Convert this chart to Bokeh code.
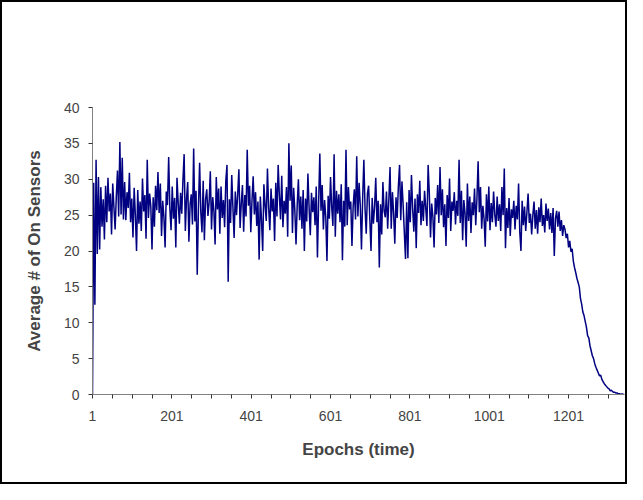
from bokeh.plotting import figure
from bokeh.models import Range1d, FixedTicker, ColumnDataSource
from bokeh.embed import file_html
from bokeh.resources import INLINE

# Epoch index (every 3rd epoch)
epochs = list(range(1, 1343, 3))
avg_on_sensors = [
    0, 29.5, 12.5, 32.7, 19.6, 30.3, 20.2, 28.9, 23.4, 27.2, 21.6, 29.1, 24.0, 30.2, 25.5, 28.0, 22.3, 29.4, 26.1, 23.0,
    27.6, 31.2, 24.8, 35.2, 25.1, 33.0, 24.4, 29.6, 24.3, 28.2, 26.0, 30.9, 24.0, 27.3, 21.9, 28.8, 25.0, 20.0, 28.5, 23.8,
    26.9, 22.8, 30.1, 25.5, 27.8, 21.7, 32.7, 24.6, 28.0, 26.2, 20.2, 27.5, 23.4, 29.1, 25.7, 31.0, 25.3, 29.4, 22.1, 27.0,
    24.7, 20.5, 28.3, 26.4, 33.1, 26.0, 22.9, 29.0, 24.5, 27.4, 20.5, 30.2, 26.7, 23.8, 28.1, 25.2, 29.9, 33.5, 22.8, 27.3,
    29.6, 21.3, 26.5, 27.9, 23.7, 34.3, 24.1, 28.4, 16.7, 25.9, 32.3, 25.4, 22.6, 29.8, 21.5, 27.2, 28.6, 24.9, 26.8, 31.1,
    23.0, 27.5, 25.6, 20.9, 30.3, 25.8, 28.7, 22.4, 29.0, 24.6, 27.1, 23.3, 29.7, 32.0, 15.7, 27.2, 23.9, 30.6, 26.0, 21.8,
    28.3, 25.0, 27.9, 31.4, 23.2, 26.6, 29.2, 22.7, 27.8, 24.8, 34.1, 26.3, 29.1, 22.6, 27.0, 30.4, 25.1, 28.2, 23.5, 26.9,
    18.8, 27.6, 24.3, 20.0, 29.3, 26.4, 24.2, 31.5, 26.1, 22.9, 28.7, 25.5, 27.3, 21.4, 29.5, 24.8, 32.0, 27.8, 24.4, 30.5,
    23.3, 27.0, 25.2, 28.9, 22.0, 35.0, 27.0, 31.9, 22.5, 28.8, 25.7, 20.9, 26.4, 30.0, 24.3, 27.6, 23.1, 28.5, 20.0, 27.3,
    24.1, 30.8, 26.0, 22.2, 28.1, 25.4, 27.5, 23.6, 29.0, 19.1, 26.7, 33.6, 25.6, 29.2, 23.0, 27.1, 24.7, 18.6, 27.7, 24.5,
    30.3, 26.1, 23.5, 33.5, 22.0, 28.4, 25.2, 27.9, 24.0, 29.3, 18.7, 27.0, 23.4, 34.1, 23.6, 28.9, 25.8, 26.9, 20.7, 26.2,
    28.6, 24.4, 33.2, 24.8, 29.5, 26.3, 20.2, 27.4, 32.7, 25.9, 22.4, 28.0, 29.1, 24.5, 20.0, 27.4, 23.8, 26.1, 30.2, 24.0,
    27.0, 17.7, 26.5, 22.3, 29.6, 25.6, 24.7, 28.3, 23.1, 27.1, 31.7, 23.1, 28.2, 25.3, 21.0, 27.5, 24.6, 29.0, 32.0, 24.3,
    29.7, 26.4, 22.6, 18.9, 26.8, 19.0, 28.5, 24.0, 30.6, 25.9, 22.7, 27.3, 20.4, 27.9, 25.3, 29.8, 23.6, 27.0, 24.2, 28.4,
    26.0, 23.5, 32.0, 28.0, 21.9, 26.6, 24.8, 20.5, 27.4, 25.1, 29.2, 23.9, 31.7, 25.0, 28.6, 23.3, 26.5, 20.7, 27.8, 24.6,
    30.1, 22.8, 26.9, 25.6, 28.2, 23.7, 27.0, 24.9, 32.7, 23.9, 28.4, 21.5, 27.1, 25.3, 20.6, 29.4, 24.2, 27.6, 22.5, 26.8,
    25.0, 28.7, 23.6, 27.2, 32.5, 25.4, 28.9, 23.1, 26.3, 24.5, 20.6, 27.9, 24.1, 29.0, 22.9, 26.7, 24.0, 28.3, 25.1, 23.4,
    27.6, 24.2, 26.5, 22.8, 28.9, 25.0, 31.5, 20.4, 26.0, 23.2, 27.4, 22.1, 25.8, 24.6, 27.0, 23.0, 26.3, 24.4, 29.4, 22.7,
    20.0, 27.0, 23.6, 26.2, 22.8, 25.4, 28.0, 23.9, 25.2, 22.3, 25.0, 26.9, 23.1, 25.7, 22.4, 26.1, 24.0, 27.3, 23.5, 25.0,
    22.6, 26.6, 24.2, 25.9, 23.0, 25.3, 22.5, 26.0, 19.3, 24.5, 25.6, 23.4, 25.5, 22.8, 24.3, 22.1, 23.6, 23.0, 21.8, 22.4,
    20.5, 21.4, 19.9, 20.3, 18.6, 17.7, 17.0, 16.2, 15.6, 15.0, 13.4, 12.6, 11.5, 11.0, 10.2, 9.4, 8.2, 7.9, 6.8, 6.1,
    5.4, 5.0, 4.3, 3.8, 3.4, 3.0, 2.6, 2.7, 2.1, 1.8, 1.5, 1.3, 1.1, 0.9, 0.8, 0.5, 0.6, 0.4, 0.3, 0.3,
    0.2, 0.2, 0.1, 0.1, 0.0, 0.1, 0.0, 0.0,
]

x_ticks = list(range(1, 1302, 50))
x_tick_labels = ["1", "201", "401", "601", "801", "1001", "1201"]
y_ticks = [0, 5, 10, 15, 20, 25, 30, 35, 40]

x_title = "Epochs (time)"
y_title = "Average # of On Sensors"

FONT = "Liberation Sans"

src = ColumnDataSource(dict(x=epochs, y=avg_on_sensors))

p = figure(
    width=627, height=484,
    x_range=Range1d(1, 1342), y_range=Range1d(0, 40),
    output_backend="svg", toolbar_location=None,
    min_border_left=90, min_border_right=5, min_border_top=105, min_border_bottom=92,
)
p.styles = {"border": "2px solid black"}
p.outline_line_color = None
p.xgrid.visible = False
p.ygrid.visible = False
p.background_fill_color = "white"
p.border_fill_color = "white"

p.line("x", "y", source=src, line_color="#000080", line_width=1.5)

# X axis
xa = p.xaxis[0]
xa.ticker = FixedTicker(ticks=x_ticks)
overrides = {}
for t in x_ticks:
    overrides[t] = str(t) if str(t) in x_tick_labels else ""
xa.major_label_overrides = overrides
xa.axis_label = x_title
xa.axis_label_text_font = FONT
xa.axis_label_text_font_style = "bold"
xa.axis_label_text_font_size = "17px"
xa.axis_label_standoff = 16
xa.major_label_text_font = FONT
xa.major_label_text_font_size = "14px"
xa.major_label_standoff = 12
xa.axis_line_color = "#808080"
xa.major_tick_line_color = "#333333"
xa.major_tick_out = 4
xa.major_tick_in = 0
xa.minor_tick_line_color = None

# Y axis
ya = p.yaxis[0]
ya.ticker = FixedTicker(ticks=y_ticks)
ya.axis_label = y_title
ya.axis_label_text_font = FONT
ya.axis_label_text_font_style = "bold"
ya.axis_label_text_font_size = "17px"
ya.axis_label_standoff = 17
ya.major_label_text_font = FONT
ya.major_label_text_font_size = "14px"
ya.major_label_standoff = 9
ya.axis_line_color = "#808080"
ya.major_tick_line_color = "#333333"
ya.major_tick_out = 4
ya.major_tick_in = 0
ya.minor_tick_line_color = None

open("out.html", "w").write(file_html(p, INLINE))
